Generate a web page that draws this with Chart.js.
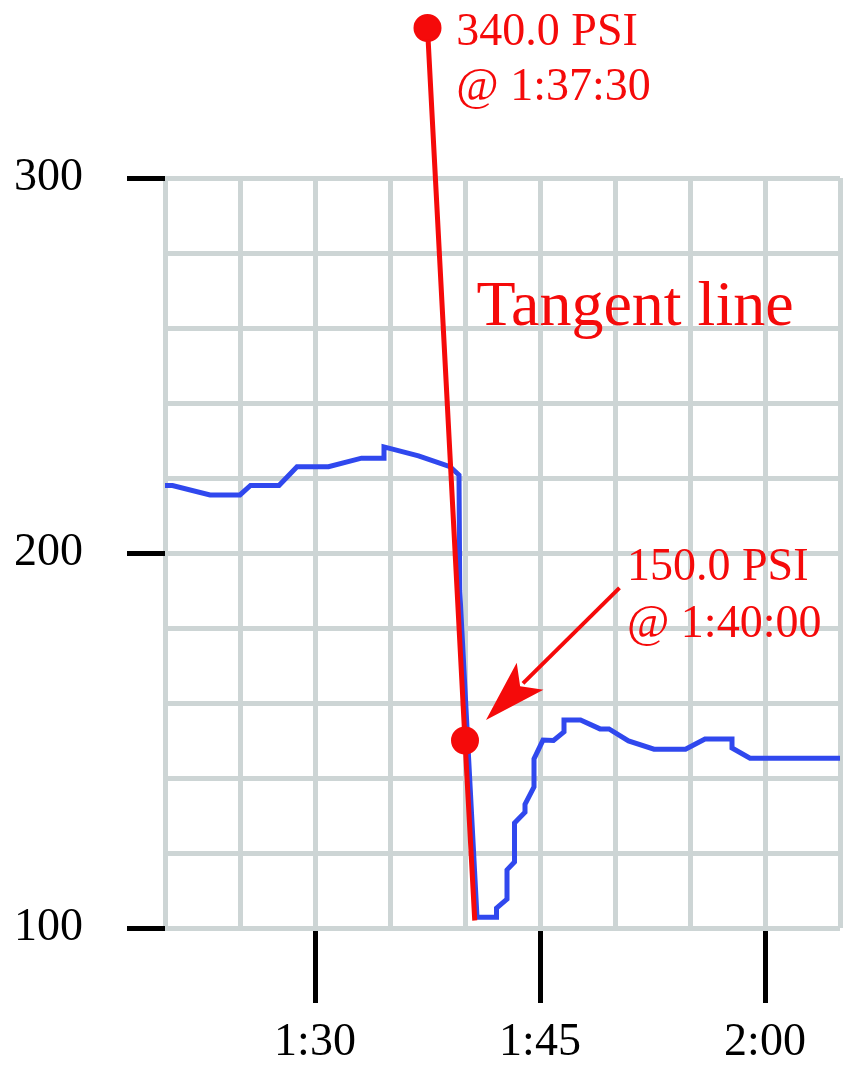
<!DOCTYPE html>
<html>
<head>
<meta charset="utf-8">
<title>Tangent line</title>
<script src="https://cdn.jsdelivr.net/npm/chart.js@4.4.1/dist/chart.umd.min.js"></script>
<style>
    html, body { margin: 0; padding: 0; background: #ffffff; }
    #chart { display: block; }
</style>
</head>
<body>
<canvas id="chart" width="858" height="1075"></canvas>
<script>
    // Time is in minutes (80 = 1:20)
    const pressureTimes = [80, 80.5, 83.0, 85.0, 85.7, 87.6, 88.8, 90.9, 93.1, 94.6, 94.6, 96.9, 99.0, 99.6, 99.65,
        100.8, 102.1, 102.1, 102.8, 102.8, 103.3, 103.3, 104.0, 104.0, 104.6, 104.6, 105.2, 105.9, 106.6, 106.6,
        107.7, 109.0, 109.6, 110.9, 112.6, 114.7, 116.0, 117.8, 117.8, 119.0, 125];
    const pressureValues = [218, 218, 215.5, 215.5, 218, 218, 223, 223, 225.3, 225.3, 228.3, 225.9, 223, 220.8, 190,
        102.9, 102.9, 105.3, 107.7, 115.5, 117.6, 128, 130.9, 133, 137.6, 145.1, 150.1, 150, 152.3, 155.5,
        155.5, 153.1, 153.1, 149.9, 147.7, 147.7, 150.4, 150.4, 148, 145.3, 145.3];

    const tangentTimes = [97.5, 100, 100.65];
    const tangentValues = [340, 150, 102];

    const yTickLabels = [100, 200, 300];
    const xTickLabels = [90, 105, 120];

    const RED = '#f50a0a';
    const BLUE = '#3048ee';
    const GRID = '#cdd5d5';
    const FONT = "'Liberation Serif', 'Times New Roman', serif";

    function toPoints(xs, ys) {
        return xs.map((x, i) => ({ x: x, y: ys[i] }));
    }

    function formatTime(v) {
        const h = Math.floor(v / 60);
        const m = Math.round(v % 60);
        return h + ':' + (m < 10 ? '0' : '') + m;
    }

    // Text and arrow annotations, anchored in data units
    const annotationPlugin = {
        id: 'annotations',
        afterDatasetsDraw(chart) {
            const ctx = chart.ctx;
            const xs = chart.scales.x;
            const ys = chart.scales.y;
            const px = v => xs.getPixelForValue(v);
            const py = v => ys.getPixelForValue(v);

            // points above the plot area are skipped by Chart.js, draw them with the whole canvas as area
            const full = { left: 0, top: 0, right: chart.width, bottom: chart.height };
            chart.getDatasetMeta(0).data.forEach(pt => {
                if (pt.y < chart.chartArea.top) pt.draw(ctx, full);
            });

            ctx.save();
            ctx.fillStyle = RED;
            ctx.strokeStyle = RED;
            ctx.textAlign = 'left';
            ctx.textBaseline = 'alphabetic';

            // top point label
            ctx.font = '46px ' + FONT;
            ctx.fillText('340.0 PSI', px(99.42), py(335.5));
            ctx.fillText('@ 1:37:30', px(99.42), py(335.5) + 55);

            // lower point label
            ctx.fillText('150.0 PSI', px(110.8), py(192.8));
            ctx.fillText('@ 1:40:00', px(110.8), py(192.8) + 57);

            // title
            ctx.font = '64px ' + FONT;
            ctx.fillText('Tangent line', px(100.76), py(260.8));

            // arrow
            const x1 = px(110.3), y1 = py(190.7);
            const x2 = px(101.4), y2 = py(155.5);
            const ang = Math.atan2(y2 - y1, x2 - x1);
            const headLen = 62, headW = 19;
            const bx = x2 - headLen * Math.cos(ang);
            const by = y2 - headLen * Math.sin(ang);
            ctx.lineWidth = 4;
            ctx.beginPath();
            ctx.moveTo(x1, y1);
            ctx.lineTo(bx + 10 * Math.cos(ang), by + 10 * Math.sin(ang));
            ctx.stroke();
            ctx.beginPath();
            ctx.moveTo(x2, y2);
            ctx.lineTo(bx + headW * Math.sin(ang), by - headW * Math.cos(ang));
            ctx.lineTo(bx + 14 * Math.cos(ang), by + 14 * Math.sin(ang));
            ctx.lineTo(bx - headW * Math.sin(ang), by + headW * Math.cos(ang));
            ctx.closePath();
            ctx.fill();
            ctx.restore();
        }
    };

    new Chart(document.getElementById('chart').getContext('2d'), {
        type: 'line',
        data: {
            datasets: [{
                label: 'Tangent',
                data: toPoints(tangentTimes, tangentValues),
                borderColor: RED,
                backgroundColor: RED,
                borderWidth: 5,
                pointRadius: [13, 13, 0],
                pointBorderWidth: 2,
                pointBackgroundColor: RED,
                pointBorderColor: RED,
                clip: false,
                order: 0
            }, {
                label: 'Pressure',
                data: toPoints(pressureTimes, pressureValues),
                borderColor: BLUE,
                borderWidth: 5,
                pointRadius: 0,
                tension: 0,
                borderJoinStyle: 'miter',
                order: 1
            }]
        },
        options: {
            responsive: false,
            devicePixelRatio: 1,
            animation: false,
            layout: { padding: { top: 178, right: 18, left: 0, bottom: 0 } },
            plugins: {
                legend: { display: false },
                tooltip: { enabled: false }
            },
            scales: {
                x: {
                    type: 'linear',
                    min: 80,
                    max: 125,
                    afterFit(scale) { scale.height = 147; },
                    border: { display: false },
                    grid: {
                        color: GRID,
                        lineWidth: 5,
                        tickLength: 75,
                        tickWidth: 5,
                        tickColor: ctx => xTickLabels.includes(ctx.tick && ctx.tick.value) ? '#000000' : 'rgba(0,0,0,0)'
                    },
                    ticks: {
                        stepSize: 5,
                        autoSkip: false,
                        maxRotation: 0,
                        padding: 12,
                        color: '#000000',
                        font: { family: FONT, size: 46 },
                        callback: v => xTickLabels.includes(v) ? formatTime(v) : ''
                    }
                },
                y: {
                    min: 100,
                    max: 300,
                    afterFit(scale) { scale.width = 165; },
                    border: { display: false },
                    grid: {
                        color: GRID,
                        lineWidth: 5,
                        tickLength: 38,
                        tickWidth: 5,
                        tickColor: ctx => yTickLabels.includes(ctx.tick && ctx.tick.value) ? '#000000' : 'rgba(0,0,0,0)'
                    },
                    ticks: {
                        stepSize: 20,
                        padding: 44,
                        color: '#000000',
                        font: { family: FONT, size: 46 },
                        callback: v => yTickLabels.includes(v) ? String(v) : ''
                    }
                }
            }
        },
        plugins: [annotationPlugin]
    });
</script>
</body>
</html>
